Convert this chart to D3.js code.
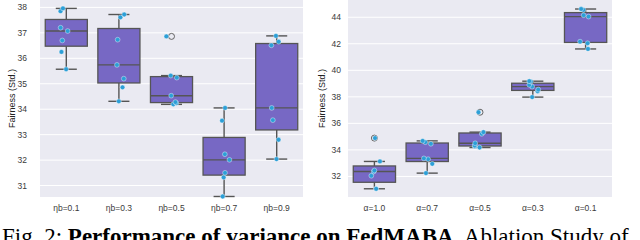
<!DOCTYPE html>
<html>
<head>
<meta charset="utf-8">
<script src="https://cdn.jsdelivr.net/npm/d3@7"></script>
<style>
  body { margin: 0; background: #fff; }
  svg { display: block; }
</style>
</head>
<body>
<div id="chart"></div>
<script>
// ── data ────────────────────────────────────────────────────
const etaLabels   = ['ηb=0.1', 'ηb=0.3', 'ηb=0.5', 'ηb=0.7', 'ηb=0.9'];
const alphaLabels = ['α=1.0', 'α=0.7', 'α=0.5', 'α=0.3', 'α=0.1'];

const etaValues = [
  [35.57, 36.25, 36.70, 37.07, 37.20, 37.85, 37.96],
  [34.31, 34.86, 35.20, 35.74, 36.73, 37.61, 37.72],
  [34.19, 34.24, 34.28, 34.53, 35.24, 35.32, 36.86],
  [30.57, 31.32, 31.50, 32.01, 32.23, 33.55, 34.05],
  [32.04, 32.80, 33.57, 34.05, 36.51, 36.65, 36.88]
];
const alphaValues = [
  [31.07, 31.07, 32.05, 32.37, 32.45, 33.13, 34.89],
  [32.25, 32.95, 33.30, 33.36, 34.46, 34.58, 34.68],
  [34.18, 34.26, 34.33, 34.50, 35.21, 35.34, 36.84],
  [37.98, 38.42, 38.55, 38.77, 38.90, 39.15, 39.18],
  [41.61, 42.04, 42.16, 44.05, 44.15, 44.55, 44.62]
];

const etaTicks   = [31, 32, 33, 34, 35, 36, 37, 38];
const alphaTicks = [32, 34, 36, 38, 40, 42, 44];

// ── style ───────────────────────────────────────────────────
const BG    = '#EAEAF2';
const BOX   = '#7768C4';
const EDGE  = '#555555';
const DOT   = '#2C9FD7';
const FONT  = '"Liberation Sans", Arial, sans-serif';

const W = 640, H = 240;
const svg = d3.select('#chart').append('svg')
  .attr('width', W).attr('height', H);

const rng = d3.randomLcg(0.37);

function boxStats(v) {
  const s = v.slice().sort(d3.ascending);
  const q1 = d3.quantile(s, 0.25), med = d3.quantile(s, 0.5), q3 = d3.quantile(s, 0.75);
  const iqr = q3 - q1;
  const inside = s.filter(d => d >= q1 - 1.5 * iqr && d <= q3 + 1.5 * iqr);
  return {
    q1, med, q3,
    lo: d3.min(inside), hi: d3.max(inside),
    out: s.filter(d => d < q1 - 1.5 * iqr || d > q3 + 1.5 * iqr)
  };
}

function panel({ x0, x1, y0, y1, domain, ticks, cats, values, tickRight, labelX }) {
  const g = svg.append('g');

  const x = d3.scaleBand().domain(cats).range([x0, x1]).paddingInner(0).paddingOuter(0);
  const y = d3.scaleLinear().domain(domain).range([y1, y0]);

  g.append('rect')
    .attr('x', x0).attr('y', y0)
    .attr('width', x1 - x0).attr('height', y1 - y0)
    .attr('fill', BG);

  // grid
  g.append('g').selectAll('line')
    .data(ticks)
    .join('line')
      .attr('x1', x0).attr('x2', x1)
      .attr('y1', d => y(d)).attr('y2', d => y(d))
      .attr('stroke', '#fff').attr('stroke-width', 1);

  // y tick labels
  g.append('g').selectAll('text')
    .data(ticks)
    .join('text')
      .attr('x', tickRight)
      .attr('y', d => y(d))
      .attr('dy', '0.35em')
      .attr('text-anchor', 'end')
      .attr('font-family', FONT)
      .attr('font-size', 8.5)
      .attr('fill', '#3a3a3a')
      .text(d => d);

  // x tick labels
  g.append('g').selectAll('text')
    .data(cats)
    .join('text')
      .attr('x', d => x(d) + x.bandwidth() / 2)
      .attr('y', 211)
      .attr('text-anchor', 'middle')
      .attr('font-family', FONT)
      .attr('font-size', 8.5)
      .attr('fill', '#3a3a3a')
      .text(d => d);

  // y label
  g.append('text')
    .attr('transform', `translate(${labelX},${(y0 + y1) / 2}) rotate(-90)`)
    .attr('text-anchor', 'middle')
    .attr('font-family', FONT)
    .attr('font-size', 9)
    .attr('fill', '#222')
    .text('Fairness (Std.)');

  const bw = x.bandwidth() * 0.8;

  cats.forEach((c, i) => {
    const st = boxStats(values[i]);
    const cx = x(c) + x.bandwidth() / 2;
    const bg = g.append('g');

    // whiskers
    bg.append('line')
      .attr('x1', cx).attr('x2', cx)
      .attr('y1', y(st.q3)).attr('y2', y(st.hi))
      .attr('stroke', EDGE).attr('stroke-width', 1.4);
    bg.append('line')
      .attr('x1', cx).attr('x2', cx)
      .attr('y1', y(st.q1)).attr('y2', y(st.lo))
      .attr('stroke', EDGE).attr('stroke-width', 1.4);
    bg.selectAll('line.cap')
      .data([st.lo, st.hi])
      .join('line')
        .attr('class', 'cap')
        .attr('x1', cx - bw / 4).attr('x2', cx + bw / 4)
        .attr('y1', d => y(d)).attr('y2', d => y(d))
        .attr('stroke', EDGE).attr('stroke-width', 1.4);

    // box
    bg.append('rect')
      .attr('x', cx - bw / 2)
      .attr('y', y(st.q3))
      .attr('width', bw)
      .attr('height', Math.max(1, y(st.q1) - y(st.q3)))
      .attr('fill', BOX)
      .attr('stroke', EDGE).attr('stroke-width', 1.3);
    bg.append('line')
      .attr('x1', cx - bw / 2).attr('x2', cx + bw / 2)
      .attr('y1', y(st.med)).attr('y2', y(st.med))
      .attr('stroke', EDGE).attr('stroke-width', 1.4);

    // fliers
    bg.selectAll('circle.out')
      .data(st.out)
      .join('circle')
        .attr('class', 'out')
        .attr('cx', cx).attr('cy', d => y(d))
        .attr('r', 3)
        .attr('fill', 'none')
        .attr('stroke', EDGE).attr('stroke-width', 0.9);

    // strip points
    bg.selectAll('circle.pt')
      .data(values[i])
      .join('circle')
        .attr('class', 'pt')
        .attr('cx', () => cx + (rng() - 0.5) * x.bandwidth() * 0.22)
        .attr('cy', d => y(d))
        .attr('r', 2.4)
        .attr('fill', DOT)
        .attr('stroke', '#fff').attr('stroke-width', 0.4);
  });
}

panel({
  x0: 40, x1: 303, y0: 0, y1: 197,
  domain: [30.55, 38.29], ticks: etaTicks,
  cats: etaLabels, values: etaValues,
  tickRight: 27, labelX: 15
});

panel({
  x0: 348, x1: 612, y0: 0, y1: 197,
  domain: [30.45, 45.3], ticks: alphaTicks,
  cats: alphaLabels, values: alphaValues,
  tickRight: 341, labelX: 325
});

// caption (runs off the bottom and right edges, as in the source crop)
const cap = svg.append('text')
  .attr('x', 2).attr('y', 244)
  .attr('font-family', '"Liberation Serif", "Times New Roman", serif')
  .attr('font-size', 23)
  .attr('fill', '#000');
cap.append('tspan').text('Fig. 2: ');
cap.append('tspan').attr('font-weight', 'bold').text('Performance of variance on FedMABA');
cap.append('tspan').text('. Ablation Study of');
</script>
</body>
</html>
